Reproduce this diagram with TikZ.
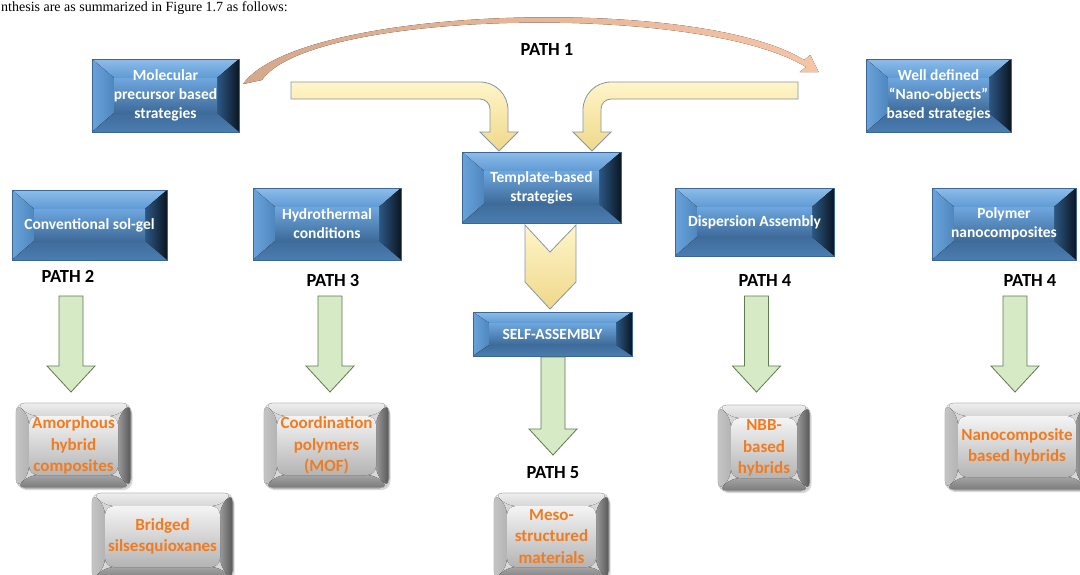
\documentclass[tikz,border=0pt]{standalone}
\usepackage{fontspec}
\setmainfont{Carlito}
\newfontfamily\bodyserif{Liberation Serif}
\usetikzlibrary{calc,shadows}
\definecolor{bTopA}{HTML}{8DBDEA}
\definecolor{bTopB}{HTML}{5F9AD4}
\definecolor{bLeftA}{HTML}{6AA3DB}
\definecolor{bLeftB}{HTML}{4F86BE}
\definecolor{bRightA}{HTML}{2C5884}
\definecolor{bRightB}{HTML}{0B1622}
\definecolor{bBotA}{HTML}{3F6C9B}
\definecolor{bBotB}{HTML}{4A7DB0}
\definecolor{bCenA}{HTML}{6EA7DF}
\definecolor{bCenB}{HTML}{3D6A98}
\definecolor{bRim}{HTML}{3A6795}
\definecolor{gTopA}{HTML}{EEEEEE}
\definecolor{gTopB}{HTML}{D6D6D6}
\definecolor{gLeftA}{HTML}{C4C4C4}
\definecolor{gLeftB}{HTML}{B4B4B4}
\definecolor{gRightA}{HTML}{9A9A9A}
\definecolor{gRightB}{HTML}{555555}
\definecolor{gBotA}{HTML}{A4A4A4}
\definecolor{gBotB}{HTML}{7A7A7A}
\definecolor{gCenA}{HTML}{F4F4F4}
\definecolor{gCenB}{HTML}{B4B4B4}
\definecolor{gRim}{HTML}{BDBDBD}
\definecolor{orangeT}{HTML}{F27B1F}
\definecolor{greenF}{HTML}{D7EAC6}
\definecolor{greenD}{HTML}{5F7B4F}
\definecolor{yelA}{HTML}{FFF5C9}
\definecolor{yelB}{HTML}{EFD88A}
\definecolor{yelD}{HTML}{8595A8}
\definecolor{arcL}{HTML}{D6A88A}
\definecolor{arcM}{HTML}{5E8EC0}
\definecolor{arcR}{HTML}{F6C4A6}
\newcommand{\bevelfaces}[1]{%
  \coordinate (bbA) at (path picture bounding box.north west);
  \coordinate (bbB) at (path picture bounding box.north east);
  \coordinate (bbC) at (path picture bounding box.south east);
  \coordinate (bbD) at (path picture bounding box.south west);
  \coordinate (bba) at ($(bbA)+(\bvx,-\bvy)$);
  \coordinate (bbb) at ($(bbB)+(-\bvx,-\bvy)$);
  \coordinate (bbc) at ($(bbC)+(-\bvx,\bvy)$);
  \coordinate (bbd) at ($(bbD)+(\bvx,\bvy)$);
  \fill[top color=#1TopA, bottom color=#1TopB] (bbA)--(bbB)--(bbb)--(bba)--cycle;
  \fill[left color=#1LeftA, right color=#1LeftB] (bbA)--(bba)--(bbd)--(bbD)--cycle;
  \fill[left color=#1RightA, right color=#1RightB] (bbB)--(bbC)--(bbc)--(bbb)--cycle;
  \fill[top color=#1BotA, bottom color=#1BotB] (bbD)--(bbd)--(bbc)--(bbC)--cycle;
  \fill[top color=#1CenA, bottom color=#1CenB] (bba) rectangle (bbc);
}
\tikzset{
  bvx/.store in=\bvx, bvy/.store in=\bvy, bvx=22pt, bvy=19pt,
  bluebox/.style={draw=bRim, line width=0.6pt, inner sep=0pt, align=center,
    text=white, font=\fontsize{15.5}{19}\selectfont\bfseries,
    path picture={\bevelfaces{b}}},
  greybox/.style={draw=gRim, line width=0.6pt, rounded corners=9pt, inner sep=0pt,
    align=center, text=orangeT, font=\fontsize{17}{21.5}\selectfont\bfseries,
    bvx=13pt, bvy=13pt,
    drop shadow={shadow xshift=1.5pt, shadow yshift=-2pt, opacity=0.3},
    path picture={\bevelfaces{g}}},
  pathlbl/.style={font=\fontsize{18.5}{20}\selectfont\bfseries, inner sep=0pt},
  garrow/.style={fill=greenF, draw=greenD, line width=0.8pt, line join=miter},
  yarrow/.style={top color=yelA, bottom color=yelB, draw=yelD, line width=0.8pt}
}
\newcommand{\greenblock}[3]{%
  \draw[garrow] ({#1-12},#2) -- ({#1+12},#2) -- ({#1+12},{#3-26}) -- ({#1+24},{#3-26})
    -- (#1,#3) -- ({#1-24},{#3-26}) -- ({#1-12},{#3-26}) -- cycle;}
\begin{document}
\begin{tikzpicture}[x=1pt,y=-1pt]
\useasboundingbox (0,0) rectangle (1080,574);
\clip (0,0) rectangle (1080,574);
\fill[white] (0,0) rectangle (1080,574);

% intro text
\node[anchor=base west, font=\bodyserif\fontsize{14}{16}\selectfont, inner sep=0pt] (intro) at (1,11) {nthesis are as summarized in Figure 1.7 as follows:};

% PATH 1 curved arrow
\fill[left color=arcL, middle color=arcM, right color=arcR]
  (243,84) .. controls (300,5) and (700,-5) .. (804,60) -- (810.3,55) -- (818.6,72)
  -- (799.7,72) -- (806,67) .. controls (700,2) and (310,10) .. (262,80) -- cycle;
\node[pathlbl] (p1) at (547,49) {PATH 1};

% yellow bent arrows
\draw[yarrow] (291,82) -- (480,82) .. controls (495.5,82) and (508,94.5) .. (508,110)
  -- (508,132) -- (518,132) -- (499,151) -- (480,132) -- (490,132) -- (490,109)
  .. controls (490,103.5) and (485.5,99) .. (480,99) -- (291,99) -- cycle;
\draw[yarrow] (798,82) -- (611,82) .. controls (595.5,82) and (583,94.5) .. (583,110)
  -- (583,132) -- (573,132) -- (592,151) -- (611,132) -- (601,132) -- (601,109)
  .. controls (601,103.5) and (605.5,99) .. (611,99) -- (798,99) -- cycle;

% blue boxes
\node[bluebox, minimum width=147pt, minimum height=73pt] (mol) at (165.5,95.5) {Molecular\\precursor based\\strategies};
\node[bluebox, minimum width=145pt, minimum height=73pt] (well) at (938.5,95.5) {Well defined\\“Nano-objects”\\based strategies};
\node[bluebox, minimum width=159pt, minimum height=71pt] (tmpl) at (541.5,187.5) {Template-based\\strategies};
\node[bluebox, minimum width=155pt, minimum height=70pt] (conv) at (89.5,225) {Conventional sol-gel};
\node[bluebox, minimum width=148pt, minimum height=72pt] (hydro) at (327,224) {Hydrothermal\\conditions};
\node[bluebox, minimum width=159pt, minimum height=68pt] (disp) at (754.5,222) {Dispersion Assembly};
\node[bluebox, minimum width=144pt, minimum height=72pt] (poly) at (1004,224) {Polymer\\nanocomposites};
\node[bluebox, minimum width=159pt, minimum height=44pt, bvx=16pt, bvy=11pt] (self) at (552.5,334) {SELF-ASSEMBLY};

% yellow chevron
\draw[yarrow] (525,225) -- (550,252) -- (576,225) -- (576,282) -- (550,309) -- (525,282) -- cycle;

% path labels
\node[pathlbl] (p2) at (68,276) {PATH 2};
\node[pathlbl] (p3) at (333,280) {PATH 3};
\node[pathlbl] (p4a) at (765,280) {PATH 4};
\node[pathlbl] (p4b) at (1030,280) {PATH 4};
\node[pathlbl] (p5) at (553,473) {PATH 5};

% green arrows
\greenblock{71}{296}{392}
\greenblock{330}{296}{392}
\greenblock{553}{357}{455}
\greenblock{756.5}{296}{392}
\greenblock{1015}{296}{392}

% grey result boxes
\node[greybox, minimum width=115pt, minimum height=85pt] (amor) at (73.5,445.5) {Amorphous\\hybrid\\composites};
\node[greybox, minimum width=141pt, minimum height=87pt] (brid) at (162.5,536.5) {Bridged\\silsesquioxanes};
\node[greybox, minimum width=125pt, minimum height=85pt] (coord) at (326.5,445.5) {Coordination\\polymers\\(MOF)};
\node[greybox, minimum width=115pt, minimum height=87pt] (meso) at (551.5,536.5) {Meso-\\structured\\materials};
\node[greybox, minimum width=92pt, minimum height=86pt] (nbb) at (764,448) {NBB-\\based\\hybrids};
\node[greybox, minimum width=144pt, minimum height=87pt] (nano) at (1017,446.5) {Nanocomposite\\based hybrids};
\end{tikzpicture}
\end{document}
